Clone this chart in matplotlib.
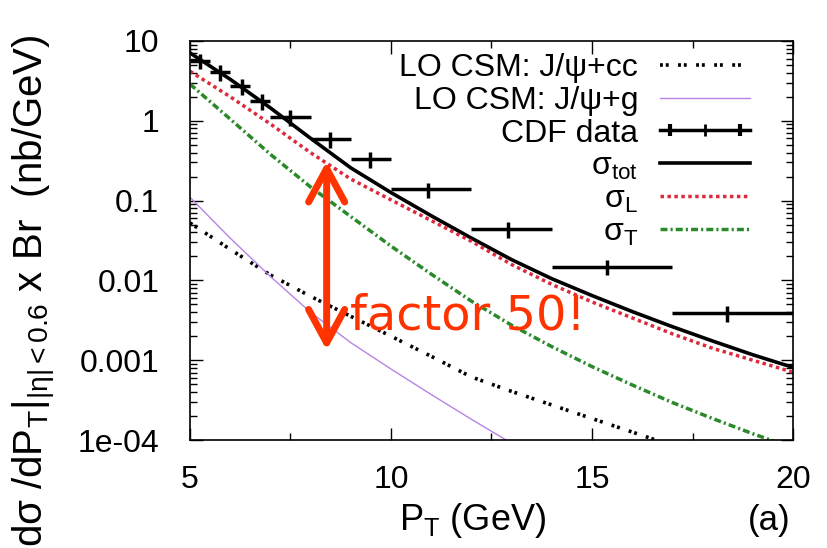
import matplotlib
matplotlib.use('Agg')
import matplotlib.pyplot as plt
import matplotlib.ticker as mtick
from matplotlib.lines import Line2D
from matplotlib.legend_handler import HandlerLine2D

plt.rcParams['font.family'] = ['Liberation Sans', 'DejaVu Sans']
plt.rcParams['mathtext.fontset'] = 'custom'
plt.rcParams['mathtext.rm'] = 'Liberation Sans'
plt.rcParams['mathtext.it'] = 'Liberation Sans:italic'
plt.rcParams['mathtext.bf'] = 'Liberation Sans:bold'

# Theory curves (pT grid in GeV, values in nb/GeV)
pt_grid = [5, 6, 7, 8, 9, 10, 11, 12, 13, 14, 15, 16, 17, 18, 19, 20]
sigma_tot = [7.08, 3.31, 1.45, 0.603, 0.257, 0.126, 0.0646, 0.0339, 0.0182, 0.0105,
             0.00646, 0.00407, 0.00263, 0.00174, 0.00117, 0.000813]
sigma_L = [4.17, 2.00, 0.912, 0.398, 0.186, 0.102, 0.0562, 0.0309, 0.0158, 0.00891,
           0.00537, 0.00339, 0.00214, 0.00141, 0.00100, 0.000708]
sigma_T = [2.88, 1.05, 0.380, 0.148, 0.0631, 0.0269, 0.0120, 0.00550, 0.00275, 0.00148,
           0.000832, 0.000490, 0.000295, 0.000186, 0.000120, 0.0000794]

pt_g = [5, 6, 7, 8, 9, 10, 11, 12, 13, 14]
lo_psi_g = [0.110, 0.0339, 0.0112, 0.00398, 0.00166, 0.000776, 0.000372, 0.000182,
            0.0000912, 0.0000479]

pt_cc = [5, 6, 7, 8, 9, 10, 11, 12, 13, 14, 15, 16, 17]
lo_psi_cc = [0.0525, 0.0245, 0.0117, 0.00631, 0.00355, 0.00200, 0.00112, 0.000617,
             0.000407, 0.000275, 0.000186, 0.000126, 0.0000851]

# CDF data
cdf_pt = [5.25, 5.75, 6.29, 6.79, 7.49, 8.48, 9.48, 10.92, 12.91, 15.37, 18.36]
cdf_lo = [5.0, 5.5, 6.0, 6.5, 7.0, 8.0, 9.0, 10.0, 12.0, 14.0, 17.0]
cdf_hi = [5.5, 6.0, 6.5, 7.0, 8.0, 9.0, 10.0, 12.0, 14.0, 17.0, 20.0]
cdf_val = [5.6, 4.08, 2.72, 1.76, 1.11, 0.587, 0.33, 0.138, 0.0435, 0.0149, 0.00394]
cdf_err = [1.2, 0.9, 0.6, 0.4, 0.25, 0.13, 0.075, 0.03, 0.01, 0.0033, 0.0009]

y_ticks = [10, 1, 0.1, 0.01, 0.001, 1e-4]
y_tick_labels = ['10', '1', '0.1', '0.01', '0.001', '1e-04']

fig = plt.figure(figsize=(8.27, 5.48), dpi=100)
ax = fig.add_axes([0.2297, 0.197, 0.7292, 0.7283])

h_cc, = ax.plot(pt_cc, lo_psi_cc, color='black', lw=2.6, linestyle=(0, (0.8, 0.8, 0.8, 2.6)))
h_g, = ax.plot(pt_g, lo_psi_g, color='#b784e6', lw=1.0)

xerr = [[p - lo for p, lo in zip(cdf_pt, cdf_lo)], [hi - p for p, hi in zip(cdf_pt, cdf_hi)]]
ax.errorbar(cdf_pt, cdf_val, xerr=xerr, yerr=cdf_err, fmt='none', ecolor='black',
            elinewidth=2.5, capsize=0)

h_tot, = ax.plot(pt_grid, sigma_tot, color='black', lw=2.6)
h_L, = ax.plot(pt_grid, sigma_L, color='#dc2a3c', lw=2.5, linestyle=(0, (1, 1)))
h_T, = ax.plot(pt_grid, sigma_T, color='#2a8a2a', lw=2.5, linestyle=(0, (2, 0.9, 0.6, 0.9)))

# legend sample for the data: bar with end caps and a centre tick
cdf_bar = Line2D([], [], color='black', lw=2.5, marker='|', markersize=9, mew=2)
cdf_caps = Line2D([], [], color='black', ls='none', marker='|', markersize=8, mew=3)

ax.set_yscale('log')
ax.set_xlim(5, 20)
ax.set_ylim(1e-4, 10)
ax.yaxis.set_major_locator(mtick.FixedLocator(y_ticks))
ax.yaxis.set_major_formatter(mtick.FixedFormatter(y_tick_labels))
ax.yaxis.set_minor_locator(mtick.LogLocator(base=10, subs=range(2, 10), numticks=20))
ax.yaxis.set_minor_formatter(mtick.NullFormatter())
ax.set_xticks([5, 10, 15, 20])
ax.xaxis.set_minor_locator(mtick.MultipleLocator(2.5))
ax.tick_params(which='both', direction='in', top=True, right=True, width=1.0, labelsize=23)
ax.tick_params(which='major', length=9)
ax.tick_params(which='minor', length=5)
ax.tick_params(axis='x', pad=18)
ax.tick_params(axis='y', pad=22)
for s in ax.spines.values():
    s.set_linewidth(1.2)

handles = [h_cc, h_g, (cdf_bar, cdf_caps), h_tot, h_L, h_T]
labels = ['LO CSM: J/ψ+cc', 'LO CSM: J/ψ+g', 'CDF data',
          r'$\mathregular{\sigma_{tot}}$', r'$\mathregular{\sigma_{L}}$',
          r'$\mathregular{\sigma_{T}}$']
leg = ax.legend(handles, labels, loc='upper right', frameon=False, markerfirst=False,
                fontsize=23, handlelength=2.8, handletextpad=0.7, labelspacing=0.09,
                borderpad=0.0, bbox_to_anchor=(0.955, 1.01),
                handler_map={cdf_caps: HandlerLine2D(numpoints=2),
                             cdf_bar: HandlerLine2D(numpoints=1)})

# factor 50 annotation
ax.annotate('', xy=(8.4, 0.00134), xytext=(8.4, 0.31),
            arrowprops=dict(arrowstyle='<->,head_length=1.2,head_width=0.65',
                            color='#ff3300', lw=5, mutation_scale=20,
                            shrinkA=0, shrinkB=0))
ax.text(8.98, 0.0024, 'factor 50!', color='#ff3300', fontsize=34.5,
        family='DejaVu Sans', ha='left', va='baseline')

fig.text(0.571, 0.05, r'$\mathregular{P_T}$ (GeV)', fontsize=26, ha='center', va='center')
fig.text(0.93, 0.05, '(a)', fontsize=25, ha='center', va='center')
fig.text(0.042, 0.47, r'$\mathregular{d\sigma\ /dP_T|_{|\eta|<0.6}\ x\ Br\ \ (nb/GeV)}$',
         fontsize=29, rotation=90, ha='center', va='center')

fig.savefig('out.png', dpi=100)
